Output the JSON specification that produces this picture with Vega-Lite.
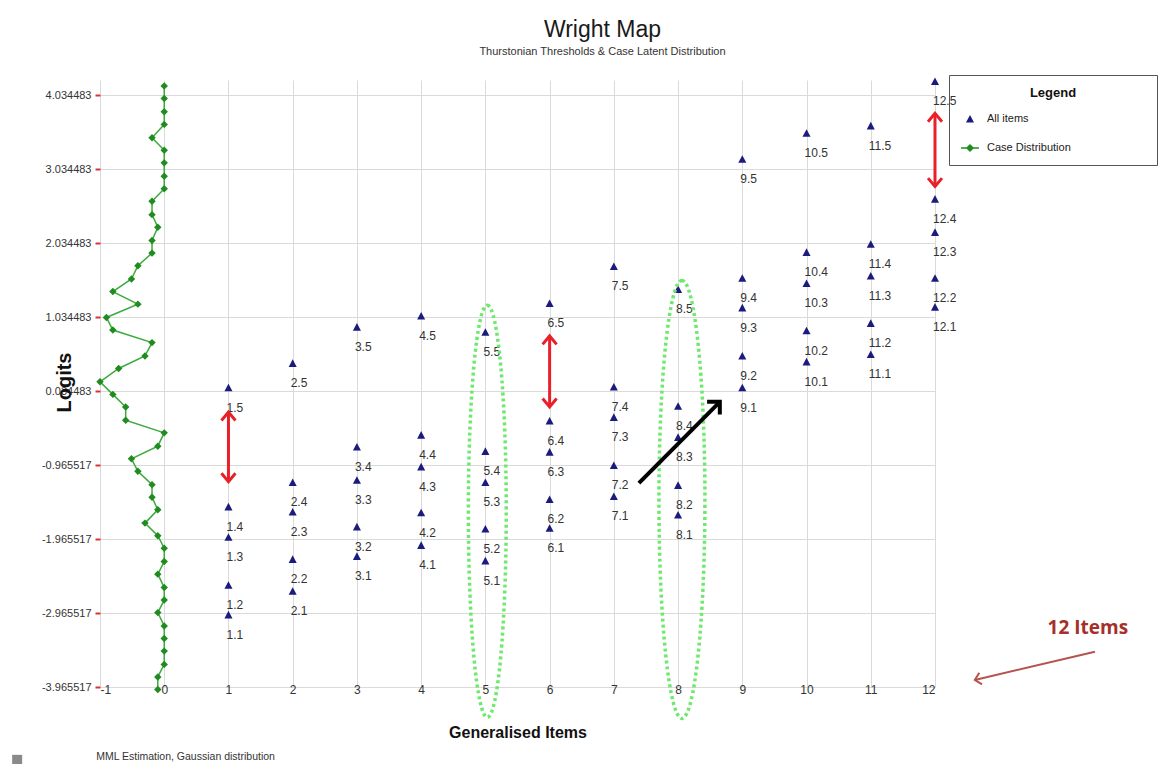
{
  "$schema": "https://vega.github.io/schema/vega-lite/v6.json",
  "width": 835,
  "height": 607,
  "autosize": {"type": "none"},
  "padding": {"left": 100, "top": 80, "right": 223, "bottom": 77},
  "background": "white",
  "config": {
    "font": "Liberation Sans, Arial, sans-serif",
    "view": {"stroke": null},
    "axis": {"gridColor": "#dadada", "gridWidth": 1, "labelColor": "#333", "labelFontSize": 11},
    "legend": {
      "orient": "none", "legendX": 849, "legendY": -5,
      "titleFontSize": 13, "titleFontWeight": "bold", "titleAnchor": "middle", "titleColor": "#111", "titlePadding": 10,
      "labelFontSize": 11, "labelColor": "#222", "labelLimit": 400, "strokeColor": "#555", "padding": 12,
      "rowPadding": 15, "symbolSize": 320, "symbolStrokeWidth": 0, "labelOffset": 8
    }
  },
  "title": {
    "text": "Wright Map",
    "subtitle": "Thurstonian Thresholds & Case Latent Distribution",
    "fontSize": 23, "fontWeight": "normal", "color": "#1a1a1a",
    "subtitleFontSize": 11, "subtitleColor": "#333",
    "anchor": "middle", "dx": 85, "offset": 18, "subtitlePadding": 4
  },
  "datasets": {
    "items": [
      {"item": 1, "label": "1.1", "logit": -2.99}, {"item": 1, "label": "1.2", "logit": -2.59}, {"item": 1, "label": "1.3", "logit": -1.94}, {"item": 1, "label": "1.4", "logit": -1.53}, {"item": 1, "label": "1.5", "logit": 0.08},
      {"item": 2, "label": "2.1", "logit": -2.67}, {"item": 2, "label": "2.2", "logit": -2.24}, {"item": 2, "label": "2.3", "logit": -1.60}, {"item": 2, "label": "2.4", "logit": -1.20}, {"item": 2, "label": "2.5", "logit": 0.41},
      {"item": 3, "label": "3.1", "logit": -2.20}, {"item": 3, "label": "3.2", "logit": -1.80}, {"item": 3, "label": "3.3", "logit": -1.17}, {"item": 3, "label": "3.4", "logit": -0.72}, {"item": 3, "label": "3.5", "logit": 0.90},
      {"item": 4, "label": "4.1", "logit": -2.05}, {"item": 4, "label": "4.2", "logit": -1.61}, {"item": 4, "label": "4.3", "logit": -0.99}, {"item": 4, "label": "4.4", "logit": -0.56}, {"item": 4, "label": "4.5", "logit": 1.05},
      {"item": 5, "label": "5.1", "logit": -2.26}, {"item": 5, "label": "5.2", "logit": -1.83}, {"item": 5, "label": "5.3", "logit": -1.20}, {"item": 5, "label": "5.4", "logit": -0.78}, {"item": 5, "label": "5.5", "logit": 0.83},
      {"item": 6, "label": "6.1", "logit": -1.82}, {"item": 6, "label": "6.2", "logit": -1.43}, {"item": 6, "label": "6.3", "logit": -0.79}, {"item": 6, "label": "6.4", "logit": -0.37}, {"item": 6, "label": "6.5", "logit": 1.22},
      {"item": 7, "label": "7.1", "logit": -1.39}, {"item": 7, "label": "7.2", "logit": -0.97}, {"item": 7, "label": "7.3", "logit": -0.32}, {"item": 7, "label": "7.4", "logit": 0.09}, {"item": 7, "label": "7.5", "logit": 1.72},
      {"item": 8, "label": "8.1", "logit": -1.64}, {"item": 8, "label": "8.2", "logit": -1.24}, {"item": 8, "label": "8.3", "logit": -0.59}, {"item": 8, "label": "8.4", "logit": -0.17}, {"item": 8, "label": "8.5", "logit": 1.41},
      {"item": 9, "label": "9.1", "logit": 0.08}, {"item": 9, "label": "9.2", "logit": 0.51}, {"item": 9, "label": "9.3", "logit": 1.16}, {"item": 9, "label": "9.4", "logit": 1.56}, {"item": 9, "label": "9.5", "logit": 3.17},
      {"item": 10, "label": "10.1", "logit": 0.43}, {"item": 10, "label": "10.2", "logit": 0.85}, {"item": 10, "label": "10.3", "logit": 1.49}, {"item": 10, "label": "10.4", "logit": 1.91}, {"item": 10, "label": "10.5", "logit": 3.52},
      {"item": 11, "label": "11.1", "logit": 0.53}, {"item": 11, "label": "11.2", "logit": 0.95}, {"item": 11, "label": "11.3", "logit": 1.59}, {"item": 11, "label": "11.4", "logit": 2.02}, {"item": 11, "label": "11.5", "logit": 3.62},
      {"item": 12, "label": "12.1", "logit": 1.17}, {"item": 12, "label": "12.2", "logit": 1.56}, {"item": 12, "label": "12.3", "logit": 2.18}, {"item": 12, "label": "12.4", "logit": 2.63}, {"item": 12, "label": "12.5", "logit": 4.22}
    ],
    "cases": [
      {"i": 1, "x": 0, "logit": 4.16}, {"i": 2, "x": 0, "logit": 3.99}, {"i": 3, "x": 0, "logit": 3.81}, {"i": 4, "x": 0, "logit": 3.64},
      {"i": 5, "x": -0.19, "logit": 3.46}, {"i": 6, "x": 0, "logit": 3.29}, {"i": 7, "x": 0, "logit": 3.12}, {"i": 8, "x": 0, "logit": 2.94},
      {"i": 9, "x": 0, "logit": 2.77}, {"i": 10, "x": -0.19, "logit": 2.60}, {"i": 11, "x": -0.19, "logit": 2.42}, {"i": 12, "x": -0.10, "logit": 2.25},
      {"i": 13, "x": -0.19, "logit": 2.07}, {"i": 14, "x": -0.19, "logit": 1.90}, {"i": 15, "x": -0.41, "logit": 1.73}, {"i": 16, "x": -0.51, "logit": 1.55},
      {"i": 17, "x": -0.80, "logit": 1.38}, {"i": 18, "x": -0.41, "logit": 1.21}, {"i": 19, "x": -0.90, "logit": 1.03}, {"i": 20, "x": -0.80, "logit": 0.86},
      {"i": 21, "x": -0.19, "logit": 0.69}, {"i": 22, "x": -0.30, "logit": 0.51}, {"i": 23, "x": -0.71, "logit": 0.34}, {"i": 24, "x": -1.0, "logit": 0.16},
      {"i": 25, "x": -0.80, "logit": -0.01}, {"i": 26, "x": -0.60, "logit": -0.18}, {"i": 27, "x": -0.60, "logit": -0.36}, {"i": 28, "x": 0, "logit": -0.53},
      {"i": 29, "x": -0.10, "logit": -0.71}, {"i": 30, "x": -0.51, "logit": -0.88}, {"i": 31, "x": -0.41, "logit": -1.05}, {"i": 32, "x": -0.19, "logit": -1.23},
      {"i": 33, "x": -0.19, "logit": -1.40}, {"i": 34, "x": -0.10, "logit": -1.57}, {"i": 35, "x": -0.30, "logit": -1.75}, {"i": 36, "x": -0.10, "logit": -1.92},
      {"i": 37, "x": 0, "logit": -2.09}, {"i": 38, "x": 0, "logit": -2.27}, {"i": 39, "x": -0.10, "logit": -2.44}, {"i": 40, "x": 0, "logit": -2.62},
      {"i": 41, "x": 0, "logit": -2.79}, {"i": 42, "x": -0.10, "logit": -2.96}, {"i": 43, "x": 0, "logit": -3.14}, {"i": 44, "x": 0, "logit": -3.31},
      {"i": 45, "x": 0, "logit": -3.48}, {"i": 46, "x": 0, "logit": -3.66}, {"i": 47, "x": -0.10, "logit": -3.83}, {"i": 48, "x": -0.10, "logit": -4.00}
    ],
    "redArrows": [
      {"item": 1, "top": -0.25, "bottom": -1.19},
      {"item": 6, "top": 0.78, "bottom": -0.18},
      {"item": 12, "top": 3.79, "bottom": 2.80}
    ],
    "blackArrow": [{"x": 7.39, "y": -1.21, "x2": 8.65, "y2": -0.11}],
    "brownArrow": [{"x": 14.49, "y": -3.49, "x2": 12.62, "y2": -3.87}],
    "ellipse5": [{"x": 5.03, "y": -1.59}],
    "ellipse8": [{"x": 8.06, "y": -1.43}],
    "callout": [{"x": 14.38, "y": -3.17, "text": "12 Items"}],
    "footnote": [{"x": -1.06, "y": -4.91, "text": "MML Estimation, Gaussian distribution"}],
    "marker": [{"x": -2.29, "y": -4.95}]
  },
  "layer": [
    {
      "mark": {"type": "rule", "color": "#e05555", "strokeWidth": 2},
      "encoding": {
        "x": {
          "datum": 0, "type": "quantitative",
          "scale": {"domain": [-1, 12], "nice": false, "zero": false},
          "axis": {
            "title": "Generalised Items", "values": [-1, 0, 1, 2, 3, 4, 5, 6, 7, 8, 9, 10, 11, 12], "format": "d",
            "labelExpr": "replace(datum.label, '\u2212', '-')",
            "grid": true, "ticks": false, "domain": false, "labelBaseline": "middle", "labelPadding": 2,
            "labelFontSize": 12, "titleFontSize": 16, "titleFontWeight": "bold", "titleColor": "#111",
            "titleBaseline": "middle", "titleY": 45
          }
        }
      }
    },
    {
      "data": {"name": "cases"},
      "mark": {"type": "line", "color": "#3daa3d", "strokeWidth": 1.5},
      "encoding": {
        "x": {"field": "x", "type": "quantitative"},
        "y": {
          "field": "logit", "type": "quantitative",
          "scale": {"domain": [-3.965517, 4.24], "nice": false, "zero": false},
          "axis": {
            "title": "Logits",
            "values": [-3.965517, -2.965517, -1.965517, -0.965517, 0.034483, 1.034483, 2.034483, 3.034483, 4.034483],
            "format": ".6f", "labelExpr": "replace(datum.label, '\u2212', '-')",
            "grid": true, "domain": false, "tickColor": "#e03030", "tickSize": 5, "tickWidth": 2,
            "labelPadding": 4, "labelFontSize": 11, "titleFontSize": 20, "titleFontWeight": "bold", "titleColor": "#111",
            "titleX": -36, "titleY": 302, "titleBaseline": "middle"
          }
        },
        "order": {"field": "i", "type": "quantitative"}
      }
    },
    {
      "data": {"name": "cases"},
      "mark": {"type": "point", "shape": "diamond", "filled": true, "color": "#1e8c1e", "size": 55, "opacity": 1},
      "encoding": {
        "x": {"field": "x", "type": "quantitative"},
        "y": {"field": "logit", "type": "quantitative"}
      }
    },
    {
      "data": {"name": "items"},
      "transform": [{"calculate": "'All items'", "as": "series"}],
      "mark": {"type": "point", "filled": true, "size": 320, "opacity": 1},
      "encoding": {
        "x": {"field": "item", "type": "quantitative"},
        "y": {"field": "logit", "type": "quantitative"},
        "color": {
          "field": "series", "type": "nominal",
          "scale": {"domain": ["All items", "Case Distribution"], "range": ["#1b1b7e", "#1e8c1e"]},
          "legend": {"title": "Legend", "labelExpr": "pad(datum.label, 41, '\u00a0') + '\u200b'"}
        },
        "shape": {
          "field": "series", "type": "nominal",
          "scale": {"domain": ["All items", "Case Distribution"], "range": ["M0,-0.45L0.45,0.4L-0.45,0.4Z", "M-1,-0.08L1,-0.08L1,0.08L-1,0.08Z M0,-0.45L0.45,0L0,0.45L-0.45,0Z"]},
          "legend": {"title": "Legend", "labelExpr": "pad(datum.label, 41, '\u00a0') + '\u200b'"}
        }
      }
    },
    {
      "data": {"name": "items"},
      "mark": {"type": "text", "align": "left", "baseline": "middle", "dx": -2, "dy": 20, "fontSize": 12, "color": "#333"},
      "encoding": {
        "x": {"field": "item", "type": "quantitative"},
        "y": {"field": "logit", "type": "quantitative"},
        "text": {"field": "label", "type": "nominal"}
      }
    },
    {
      "data": {"name": "ellipse5"},
      "mark": {"type": "point", "shape": "M0,-1A0.092,1,0,1,1,0,1A0.092,1,0,1,1,0,-1Z", "size": 169744, "filled": false, "stroke": "#6ee86e", "strokeWidth": 3.5, "strokeDash": [3, 3], "opacity": 1},
      "encoding": {
        "x": {"field": "x", "type": "quantitative"},
        "y": {"field": "y", "type": "quantitative"}
      }
    },
    {
      "data": {"name": "ellipse8"},
      "mark": {"type": "point", "shape": "M0,-1A0.105,1,0,1,1,0,1A0.105,1,0,1,1,0,-1Z", "size": 191844, "filled": false, "stroke": "#6ee86e", "strokeWidth": 3.5, "strokeDash": [3, 3], "opacity": 1},
      "encoding": {
        "x": {"field": "x", "type": "quantitative"},
        "y": {"field": "y", "type": "quantitative"}
      }
    },
    {
      "data": {"name": "redArrows"},
      "mark": {"type": "rule", "color": "#e8202a", "strokeWidth": 3},
      "encoding": {
        "x": {"field": "item", "type": "quantitative"},
        "y": {"field": "top", "type": "quantitative"},
        "y2": {"field": "bottom"}
      }
    },
    {
      "data": {"name": "redArrows"},
      "mark": {"type": "point", "shape": "M-1,1.2L0,0L1,1.2", "size": 196, "filled": false, "stroke": "#e8202a", "strokeWidth": 3, "opacity": 1},
      "encoding": {
        "x": {"field": "item", "type": "quantitative"},
        "y": {"field": "top", "type": "quantitative"}
      }
    },
    {
      "data": {"name": "redArrows"},
      "mark": {"type": "point", "shape": "M-1,1.2L0,0L1,1.2", "angle": 180, "size": 196, "filled": false, "stroke": "#e8202a", "strokeWidth": 3, "opacity": 1},
      "encoding": {
        "x": {"field": "item", "type": "quantitative"},
        "y": {"field": "bottom", "type": "quantitative"}
      }
    },
    {
      "data": {"name": "blackArrow"},
      "mark": {"type": "rule", "color": "#000", "strokeWidth": 4},
      "encoding": {
        "x": {"field": "x", "type": "quantitative"},
        "y": {"field": "y", "type": "quantitative"},
        "x2": {"field": "x2"},
        "y2": {"field": "y2"}
      }
    },
    {
      "data": {"name": "blackArrow"},
      "mark": {"type": "point", "shape": "M-1,1L0,0L1,1", "angle": 45, "size": 324, "filled": false, "stroke": "#000", "strokeWidth": 4, "opacity": 1},
      "encoding": {
        "x": {"field": "x2", "type": "quantitative"},
        "y": {"field": "y2", "type": "quantitative"}
      }
    },
    {
      "data": {"name": "brownArrow"},
      "mark": {"type": "rule", "color": "#b5534f", "strokeWidth": 2},
      "encoding": {
        "x": {"field": "x", "type": "quantitative"},
        "y": {"field": "y", "type": "quantitative"},
        "x2": {"field": "x2"},
        "y2": {"field": "y2"}
      }
    },
    {
      "data": {"name": "brownArrow"},
      "mark": {"type": "point", "shape": "M-1,1L0,0L1,1", "angle": 257, "size": 144, "filled": false, "stroke": "#b5534f", "strokeWidth": 2, "opacity": 1},
      "encoding": {
        "x": {"field": "x2", "type": "quantitative"},
        "y": {"field": "y2", "type": "quantitative"}
      }
    },
    {
      "data": {"name": "callout"},
      "mark": {"type": "text", "font": "Open Sans", "fontWeight": "bold", "fontSize": 19, "color": "#a5302a", "align": "center", "baseline": "middle"},
      "encoding": {
        "x": {"field": "x", "type": "quantitative"},
        "y": {"field": "y", "type": "quantitative"},
        "text": {"field": "text", "type": "nominal"}
      }
    },
    {
      "data": {"name": "footnote"},
      "mark": {"type": "text", "fontSize": 10.5, "color": "#333", "align": "left", "baseline": "middle"},
      "encoding": {
        "x": {"field": "x", "type": "quantitative"},
        "y": {"field": "y", "type": "quantitative"},
        "text": {"field": "text", "type": "nominal"}
      }
    },
    {
      "data": {"name": "marker"},
      "mark": {"type": "point", "shape": "square", "filled": true, "size": 100, "color": "#8a8a8a", "opacity": 1},
      "encoding": {
        "x": {"field": "x", "type": "quantitative"},
        "y": {"field": "y", "type": "quantitative"}
      }
    }
  ]
}
